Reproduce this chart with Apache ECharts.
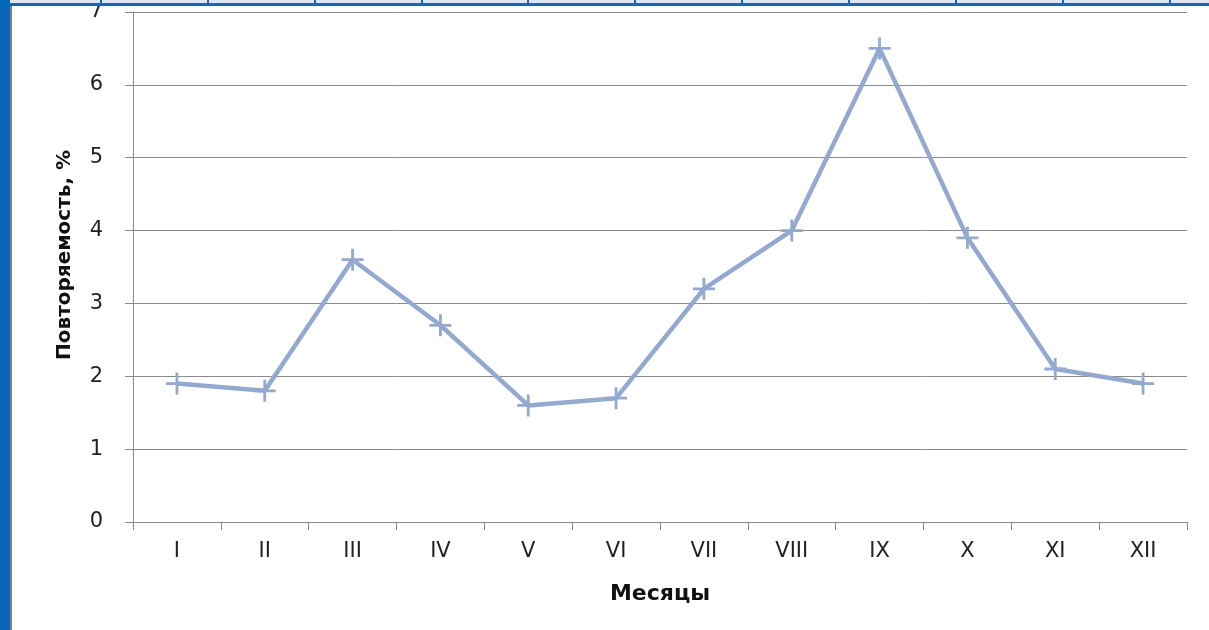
<!DOCTYPE html>
<html>
<head>
<meta charset="utf-8">
<script src="https://cdn.jsdelivr.net/npm/echarts@6/dist/echarts.min.js"></script>
<style>
  html, body { margin: 0; padding: 0; background: #ffffff; }
  #chart { width: 1209px; height: 630px; }
</style>
</head>
<body>
<div id="chart"></div>
<script>
// Monthly recurrence, %
const months = ['I', 'II', 'III', 'IV', 'V', 'VI', 'VII', 'VIII', 'IX', 'X', 'XI', 'XII'];
const recurrence = [1.9, 1.8, 3.6, 2.7, 1.6, 1.7, 3.2, 4.0, 6.5, 3.9, 2.1, 1.9];
const yTicks = [0, 1, 2, 3, 4, 5, 6, 7];

const FONT = '"DejaVu Sans", "Open Sans", sans-serif';
const AXIS_GREY = '#8a8a8a';
const LINE_BLUE = '#94a9d0';

const chart = echarts.init(document.getElementById('chart'), null, { renderer: 'canvas' });

// plus-shaped marker
const plusPath = 'path://M-1.4,-11H1.4V-1.4H11V1.4H1.4V11H-1.4V1.4H-11V-1.4H-1.4Z';

// header band cell dividers
const dividerXs = [101, 208, 315, 422, 528, 635, 742, 849, 956, 1063, 1170];

const graphics = [
  { type: 'rect', z: 100, shape: { x: 0, y: 0, width: 1209, height: 4 }, style: { fill: '#dfe6f2' } },
  { type: 'rect', z: 101, shape: { x: 0, y: 3, width: 1209, height: 3 }, style: { fill: '#1467bd' } },
  { type: 'rect', z: 101, shape: { x: 0, y: 0, width: 10, height: 630 }, style: { fill: '#0a66b8' } },
  { type: 'rect', z: 101, shape: { x: 10, y: 6, width: 2, height: 624 }, style: { fill: '#808080' } },
  {
    type: 'text', z: 50, left: 55, top: 150,
    rotation: Math.PI / 2,
    style: { text: 'Повторяемость, %', font: 'bold 20px ' + FONT, fill: '#111' }
  }
];
dividerXs.forEach(function (x) {
  graphics.push({ type: 'rect', z: 102, shape: { x: x - 1, y: 0, width: 2, height: 5 }, style: { fill: '#1467bd' } });
});

const option = {
  animation: false,
  backgroundColor: '#ffffff',
  grid: { left: 133, right: 22, top: 12, bottom: 108, containLabel: false },
  xAxis: {
    type: 'category',
    data: months,
    boundaryGap: true,
    name: 'Месяцы',
    nameLocation: 'middle',
    nameGap: 61,
    nameTextStyle: { fontFamily: FONT, fontSize: 22, fontWeight: 'bold', color: '#111' },
    axisLine: { lineStyle: { color: AXIS_GREY, width: 1 } },
    axisTick: { show: true, length: 8, alignWithLabel: false, lineStyle: { color: AXIS_GREY } },
    axisLabel: { fontFamily: FONT, fontSize: 21, color: '#222', margin: 19 },
    splitLine: { show: false }
  },
  yAxis: {
    type: 'value',
    min: 0,
    max: 7,
    interval: 1,
    axisLine: { show: true, lineStyle: { color: AXIS_GREY, width: 1 } },
    axisTick: { show: true, length: 8, lineStyle: { color: AXIS_GREY } },
    axisLabel: {
      fontFamily: FONT, fontSize: 21, color: '#222', margin: 30,
      formatter: function (v) { return yTicks.indexOf(v) >= 0 ? String(v) : ''; }
    },
    splitLine: { show: true, lineStyle: { color: AXIS_GREY, width: 1 } }
  },
  series: [{
    type: 'line',
    data: recurrence,
    symbol: plusPath,
    symbolSize: 22,
    showAllSymbol: true,
    lineStyle: { color: LINE_BLUE, width: 4.5 },
    itemStyle: { color: LINE_BLUE },
    z: 3
  }],
  graphic: { elements: graphics }
};

chart.setOption(option);
</script>
</body>
</html>
